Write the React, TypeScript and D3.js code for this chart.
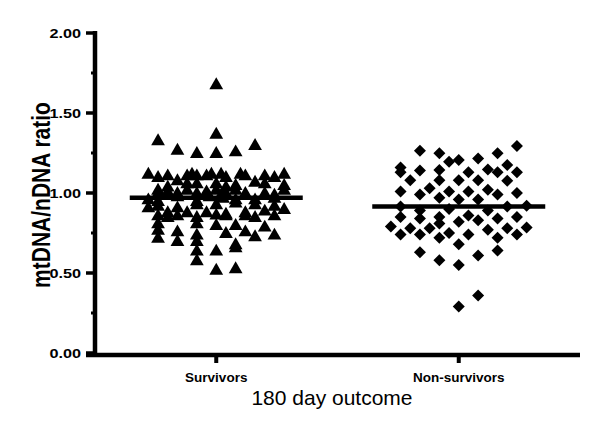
import React from "react";
import * as d3 from "d3";

const groups = ["Survivors", "Non-survivors"];
const yTicks = [0, 0.5, 1.0, 1.5, 2.0];
const yMinorTicks = [0.25, 0.75, 1.25, 1.75];
const groupMeans = [0.97, 0.915];

// Survivors: value and column offset (jitter column)
const survivorValues = [
  1.68, 1.37, 1.33, 1.30, 1.27, 1.25, 1.25, 1.26,
  1.12, 1.10, 1.11, 1.08, 1.11, 1.12, 1.11, 1.11, 1.12, 1.12, 1.10, 1.12, 1.11, 1.11, 1.10, 1.12,
  1.04, 1.06, 1.06, 1.05, 1.07, 1.02, 1.06, 1.04, 1.05, 1.06,
  1.00, 1.01, 1.02, 1.00, 1.01, 1.02, 0.99, 1.02, 1.00, 1.00, 1.02, 1.00, 0.99, 1.00,
  0.95, 0.98, 0.95, 0.98, 0.97, 0.96, 0.96, 0.97, 0.96,
  0.91, 0.88, 0.88, 0.93, 0.88, 0.93, 0.87, 0.94, 0.88, 0.93, 0.89, 0.92, 0.90, 0.91, 0.92,
  0.86, 0.86, 0.85, 0.865, 0.86, 0.86, 0.85, 0.86, 0.85,
  0.81, 0.80, 0.80, 0.81, 0.79,
  0.77, 0.76, 0.74, 0.75, 0.76, 0.73, 0.74,
  0.72, 0.70, 0.70, 0.68,
  0.64, 0.64, 0.66,
  0.58,
  0.52, 0.53,
];
const survivorCols = [
  0, 0, -6, 4, -4, -2, 0, 2,
  -7, -6, -5, -4, -3, -2.5, -2, -1, -0.5, 0.5, 1, 2.5, 3, 5, 6, 7,
  -5, -2, 0, 2, 4, -6, -3, 1, 7, 5,
  -6, -5, -3, -2, -1, 0, 0.5, 2, 3, 5, 7, -4, 6, 1,
  -6, -4, -2, -0.7, 0.7, -7, 4, 6, 2,
  -7, -5, -3, -2, -1, 0, 1, 2, 3, 4, 5, 6, 7, -4, -6,
  -6, -4, -2, 0, 1, 3, 4, 6, -5,
  -2, 0, 2, -6, 5,
  -6, -4, -2, 1, 3, 4, 6,
  -6, -4, -2, 2,
  -2, 0, 2,
  -2,
  0, 2,
];

// Non-survivors
const nonSurvivorValues = [
  1.294, 1.264, 1.248, 1.248, 1.196, 1.206, 1.216,
  1.16, 1.13, 1.14, 1.144, 1.147, 1.13, 1.175, 1.13, 1.13,
  1.08, 1.08, 1.08, 1.08, 1.077,
  1.01, 0.99, 1.03, 1.01, 1.01, 1.02, 0.99, 1.00,
  0.97, 0.96, 0.96,
  0.915, 0.89, 0.90, 0.89, 0.915, 0.92,
  0.85, 0.84, 0.85, 0.86, 0.83, 0.84, 0.85,
  0.79, 0.78, 0.78, 0.81, 0.82, 0.77, 0.78, 0.785,
  0.74, 0.74, 0.75, 0.74, 0.74, 0.72, 0.72,
  0.68, 0.63, 0.64, 0.61, 0.58, 0.55,
  0.36, 0.29,
];
const nonSurvivorCols = [
  6, -4, -2, 4, -1, 0, 2,
  -6, -6, -4, -2, 3, 4, 5, 6, 1,
  -5, -2, 0, 2, 5,
  -6, -4, -3, -1, 1, 3, 4, 6,
  -2, 0, 2,
  -6, -4, -1, 3, 5, 7,
  -6, -4, -2, 1, 2, 4, 6,
  -7, -5, -3, -2, 0, 3, 5, 7,
  -6, -4, -1, 1, 6, -2, 4,
  0, -4, 4, 2, -2, 0,
  2, 0,
];

const W = 600;
const H = 425;
const FONT = "Liberation Sans, Arial, sans-serif";

export default function App() {
  const y = d3.scaleLinear().domain([0, 2]).range([353, 33]);
  const x = d3.scalePoint<string>().domain(groups).range([95, 580]).padding(0.5);
  const col = d3.scaleLinear().domain([-1, 1]).range([-9.7, 9.7]);

  const tri = d3.symbol().type(d3.symbolTriangle).size(82)()!;
  const dia = d3.symbol().type(d3.symbolSquare).size(72)()!;

  const sx = x("Survivors")!;
  const nx = x("Non-survivors")!;
  const halfLine = 86.5;

  return (
    <svg width={W} height={H} style={{ position: "absolute", left: 0, top: 0, background: "#fff" }}>
      <rect x={0} y={0} width={W} height={H} fill="#fff" />
      {/* Y axis */}
      <line x1={95} x2={95} y1={31} y2={357} stroke="#000" strokeWidth={4.5} />
      {yTicks.map((t) => (
        <g key={t}>
          <line x1={86} x2={95} y1={y(t)} y2={y(t)} stroke="#000" strokeWidth={3.5} />
          <text
            transform={`translate(81,${y(t) + 4.7}) scale(1.25,1)`}
            textAnchor="end"
            fontFamily={FONT}
            fontWeight="bold"
            fontSize={13}
          >
            {t.toFixed(2)}
          </text>
        </g>
      ))}
      {yMinorTicks.map((t) => (
        <line key={t} x1={91} x2={95} y1={y(t)} y2={y(t)} stroke="#000" strokeWidth={3} />
      ))}
      {/* X axis */}
      <line x1={86} x2={580} y1={355} y2={355} stroke="#000" strokeWidth={4.5} />
      {groups.map((g) => (
        <g key={g}>
          <line x1={x(g)!} x2={x(g)!} y1={355} y2={363} stroke="#000" strokeWidth={4} />
          <text
            x={x(g)!}
            y={382}
            textAnchor="middle"
            fontFamily={FONT}
            fontWeight="bold"
            fontSize={13.5}
          >
            {g}
          </text>
        </g>
      ))}
      <text x={332} y={405} textAnchor="middle" fontFamily={FONT} fontSize={21}>
        180 day outcome
      </text>
      <text
        transform={`translate(50,195) scale(1.2,1) rotate(-90)`}
        textAnchor="middle"
        fontFamily={FONT}
        fontWeight="bold"
        fontSize={21}
      >
        mtDNA/nDNA ratio
      </text>
      {/* Survivors */}
      {survivorValues.map((v, i) => (
        <path
          key={"s" + i}
          d={tri}
          transform={`translate(${sx + col(survivorCols[i])},${y(v) + 1})`}
          fill="#000"
        />
      ))}
      {/* Non-survivors */}
      {nonSurvivorValues.map((v, i) => (
        <path
          key={"n" + i}
          d={dia}
          transform={`translate(${nx + col(nonSurvivorCols[i])},${y(v)}) rotate(45)`}
          fill="#000"
        />
      ))}
      {/* Means */}
      {groupMeans.map((m, i) => (
        <line
          key={"m" + i}
          x1={x(groups[i])! - halfLine}
          x2={x(groups[i])! + halfLine}
          y1={y(m)}
          y2={y(m)}
          stroke="#000"
          strokeWidth={4.5}
        />
      ))}
    </svg>
  );
}
